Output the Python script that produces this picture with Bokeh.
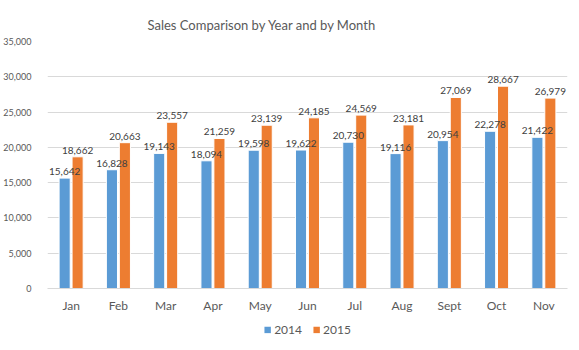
from bokeh.plotting import figure
from bokeh.layouts import column
from bokeh.models import ColumnDataSource, LabelSet, NumeralTickFormatter, FixedTicker, Legend, LegendItem, Title
from bokeh.transform import dodge
from bokeh.core.properties import value
from bokeh.embed import file_html
from bokeh.resources import INLINE

months = ["Jan", "Feb", "Mar", "Apr", "May", "Jun", "Jul", "Aug", "Sept", "Oct", "Nov"]
sales_2014 = [15642, 16828, 19143, 18094, 19598, 19622, 20730, 19116, 20954, 22278, 21422]
sales_2015 = [18662, 20663, 23557, 21259, 23139, 24185, 24569, 23181, 27069, 28667, 26979]
series_names = ["2014", "2015"]
y_ticks = [0, 5000, 10000, 15000, 20000, 25000, 30000, 35000]

FONT = "Lato"
BLUE, ORANGE = "#5B9BD5", "#ED7D31"
src = ColumnDataSource(dict(
    month=months, s14=sales_2014, s15=sales_2015,
    l14=[f"{v:,}" for v in sales_2014], l15=[f"{v:,}" for v in sales_2015],
))

p = figure(x_range=months, y_range=(0, 35000), width=579, height=315,
           output_backend="svg", toolbar_location=None,
           min_border_left=44, min_border_right=12, min_border_top=41, min_border_bottom=27)
p.title = None
p.outline_line_color = None
p.background_fill_color = "white"
p.border_fill_color = "white"

b1 = p.vbar(x=dodge("month", -0.137, range=p.x_range), top="s14", width=0.235, source=src,
            fill_color=BLUE, line_color="white", line_width=1)
b2 = p.vbar(x=dodge("month", 0.137, range=p.x_range), top="s15", width=0.235, source=src,
            fill_color=ORANGE, line_color="white", line_width=1)

for xoff, col, lab in ((-0.137, "s14", "l14"), (0.137, "s15", "l15")):
    ls = LabelSet(x=dodge("month", xoff, range=p.x_range), y=col, text=lab, source=src,
                  y_offset=3, text_align="center", text_baseline="bottom",
                  text_font_size="10px", text_color="#404040", text_font=value(FONT))
    p.add_layout(ls)

p.yaxis.ticker = FixedTicker(ticks=y_ticks)
p.yaxis.formatter = NumeralTickFormatter(format="0,0")
p.yaxis.axis_line_color = None
p.yaxis.major_tick_line_color = None
p.yaxis.minor_tick_line_color = None
p.yaxis.major_label_text_font = FONT
p.yaxis.major_label_text_font_size = "9px"
p.yaxis.major_label_text_color = "#595959"
p.yaxis.major_label_standoff = 10

p.xaxis.axis_line_color = "#d9d9d9"
p.xaxis.major_tick_line_color = None
p.xaxis.minor_tick_line_color = None
p.xaxis.major_label_text_font = FONT
p.xaxis.major_label_text_font_size = "12px"
p.xaxis.major_label_text_color = "#595959"
p.xaxis.major_label_standoff = 3

p.xgrid.grid_line_color = None
p.ygrid.grid_line_color = "#d9d9d9"
p.ygrid.grid_line_width = 1

title = Title(text="Sales Comparison by Year and by Month", align="left", offset=100,
              text_font=FONT, text_font_size="13px", text_font_style="normal",
              text_color="#595959", standoff=18)
p.add_layout(title, "above")

# legend strip
lg = figure(width=579, height=28, x_range=(0, 1), y_range=(0, 1),
            output_backend="svg", toolbar_location=None,
            x_axis_location=None, y_axis_location=None,
            min_border=0, outline_line_color=None)
lg.grid.visible = False
r1 = lg.vbar(x=[0.5], top=[0], bottom=[0], width=0.0, fill_color=BLUE, line_color=None)
r2 = lg.vbar(x=[0.5], top=[0], bottom=[0], width=0.0, fill_color=ORANGE, line_color=None)
legend = Legend(items=[LegendItem(label=series_names[0], renderers=[r1]),
                       LegendItem(label=series_names[1], renderers=[r2])],
                orientation="horizontal", location="center", label_text_font=FONT,
                label_text_font_size="12px", label_text_color="#595959",
                glyph_width=8, glyph_height=8, spacing=10, label_standoff=3,
                background_fill_alpha=0, border_line_color=None, padding=0, margin=0)
lg.add_layout(legend)

layout = column(p, lg, spacing=0)
open("out.html", "w").write(file_html(layout, INLINE))
